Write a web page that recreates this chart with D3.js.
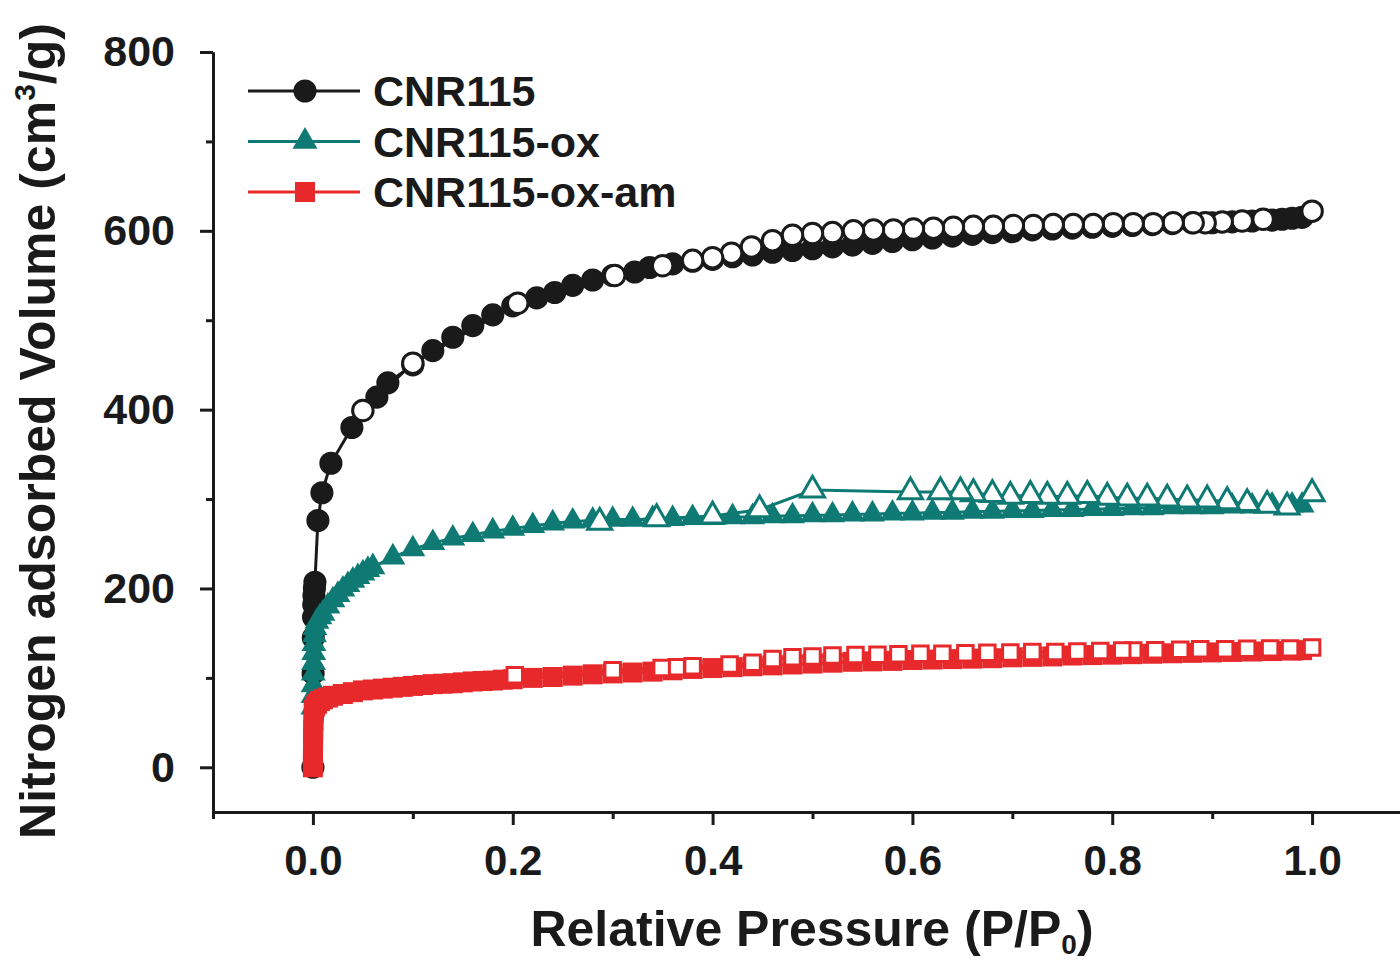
<!DOCTYPE html>
<html>
  <head>
    <meta charset="utf-8" />
    <title>N2 isotherms</title>
    <style>
      html, body {
        margin: 0;
        padding: 0;
        background: white;
      }
      svg text {
        font-family: "Liberation Sans", Arial, sans-serif;
        font-weight: bold;
        fill: #1a1a1a;
      }
      .axis path, .axis line {
        stroke: #1a1a1a;
        stroke-width: 3px;
      }
    </style>
  </head>
  <body>
    <script src="https://d3js.org/d3.v7.min.js"></script>
    <script>
      // [P/P0, volume]
      var blackAds = [[0,0],[0.0002,105],[0.0004,145],[0.0006,168],[0.0008,182],[0.001,192],[0.0015,200],[0.002,207],
        [0.005,276],[0.009,307],[0.018,340],[0.039,380],[0.064,414],[0.075,430],[0.10,450],[0.12,466],[0.14,481],
        [0.16,494],[0.18,506],[0.20,516],[0.224,525],[0.242,531],[0.26,539],[0.28,545],[0.30,550],[0.322,554],
        [0.337,559],[0.36,563],[0.38,566],[0.40,568],[0.42,571],[0.44,573],[0.46,576],[0.48,578],[0.50,580],
        [0.52,582],[0.54,584],[0.56,586],[0.58,588],[0.60,590],[0.62,592],[0.64,594],[0.66,596],[0.68,598],
        [0.70,599],[0.72,601],[0.74,602],[0.76,603],[0.78,604],[0.80,605],[0.82,606],[0.84,607],[0.86,608],
        [0.88,609],[0.90,609],[0.92,610],[0.94,611],[0.96,612],[0.97,613],[0.98,614],[0.99,615]];
      var blackDes = [[1.0,622],[0.951,613],[0.93,611],[0.91,610],[0.893,609],[0.881,609],[0.861,609],[0.841,608],
        [0.821,608],[0.801,608],[0.781,607],[0.761,607],[0.741,607],[0.721,606],[0.701,606],[0.681,605],
        [0.661,605],[0.641,604],[0.621,603],[0.601,602],[0.581,601],[0.561,601],[0.541,600],[0.52,598],
        [0.50,597],[0.48,595],[0.46,589],[0.439,582],[0.419,575],[0.40,570],[0.38,567],[0.35,561],[0.302,550],
        [0.205,519],[0.10,452],[0.05,399]];

      var tealAds = [[0,67],[0.0001,80],[0.0002,92],[0.0004,105],[0.0006,117],[0.0008,128],[0.001,138],[0.0015,148],
        [0.002,156],[0.004,163],[0.007,168],[0.01,172],[0.015,180],[0.02,187],[0.025,193],[0.03,199],[0.035,204],
        [0.04,209],[0.045,213],[0.05,217],[0.055,221],[0.06,224],[0.08,235],[0.10,244],[0.12,251],[0.14,256],
        [0.16,260],[0.18,264],[0.20,267],[0.22,270],[0.24,273],[0.26,275],[0.28,276],[0.30,277],[0.32,277],
        [0.34,278],[0.36,278],[0.38,279],[0.40,279],[0.42,280],[0.44,280],[0.46,281],[0.48,281],[0.50,282],
        [0.52,282],[0.54,283],[0.56,283],[0.58,284],[0.60,284],[0.62,285],[0.64,285],[0.66,286],[0.68,286],
        [0.70,287],[0.72,287],[0.74,288],[0.76,288],[0.78,289],[0.80,289],[0.82,290],[0.84,290],[0.86,291],
        [0.88,291],[0.90,291],[0.92,292],[0.94,292],[0.96,293],[0.98,293],[0.99,293]];
      var tealDes = [[1.0,306],[0.975,291],[0.955,293],[0.935,295],[0.915,297],[0.895,299],[0.875,299],[0.855,300],
        [0.835,301],[0.815,301],[0.795,302],[0.775,304],[0.755,303],[0.735,303],[0.718,304],[0.698,303],
        [0.68,305],[0.661,306],[0.648,308],[0.628,308],[0.598,308],[0.50,310],[0.447,288],[0.40,281],
        [0.344,278],[0.287,274]];

      var redAds = [[0,0],[0,8],[0.0001,20],[0.0002,32],[0.0003,42],[0.0005,52],[0.0008,60],[0.001,64],[0.002,68],
        [0.004,71],[0.007,74],[0.01,76],[0.015,78],[0.02,80],[0.03,82],[0.04,84],[0.05,86],[0.06,87],[0.07,88],
        [0.08,89],[0.09,90],[0.10,91],[0.11,92],[0.12,93],[0.13,93.5],[0.14,94],[0.15,95],[0.16,96],[0.17,96.5],
        [0.18,97],[0.19,98],[0.20,98.5],[0.22,100],[0.24,101],[0.26,102.5],[0.28,104],[0.30,105],[0.32,106],
        [0.34,107],[0.36,108.5],[0.38,110],[0.40,111],[0.42,112],[0.44,113],[0.46,114],[0.48,115],[0.50,116],
        [0.52,117],[0.54,118],[0.56,118.5],[0.58,119],[0.60,120],[0.62,120.5],[0.64,121],[0.66,121.5],[0.68,122],
        [0.70,123],[0.72,123.5],[0.74,124],[0.76,125],[0.78,125.5],[0.80,126],[0.82,126.5],[0.84,127],
        [0.86,127.5],[0.88,128],[0.90,128.5],[0.92,129],[0.94,129.5],[0.96,130],[0.98,130.5],[0.99,131]];
      var redDes = [[1.0,134],[0.978,133],[0.958,133],[0.935,132.5],[0.913,132],[0.888,132],[0.868,131.5],
        [0.843,131],[0.821,130.5],[0.81,130.5],[0.788,130],[0.765,129.5],[0.743,129],[0.72,129],[0.698,128.5],
        [0.675,128],[0.653,127.5],[0.63,127],[0.608,127],[0.586,126.5],[0.565,126],[0.543,125.5],[0.52,125],
        [0.50,124],[0.48,123],[0.46,121],[0.44,117],[0.417,115],[0.38,113],[0.364,112],[0.349,111],
        [0.30,108.5],[0.202,103]];

      var seriesNames = ["CNR115", "CNR115-ox", "CNR115-ox-am"];
      var xTicks = [0, 0.2, 0.4, 0.6, 0.8, 1.0];
      var xMinor = [-0.1, 0.1, 0.3, 0.5, 0.7, 0.9, 1.1];
      var yTicks = [0, 200, 400, 600, 800];
      var yMinor = [100, 300, 500, 700];

      var W = 1400, H = 963;

      var svg = d3.select("body").append("svg")
        .attr("width", W)
        .attr("height", H);

      var x = d3.scaleLinear().domain([-0.1, 1.1]).range([213, 1412]);
      var y = d3.scaleLinear().domain([-50, 800]).range([812, 52]);

      // axes
      svg.append("g")
        .attr("class", "axis")
        .attr("transform", "translate(0," + y(-50) + ")")
        .call(d3.axisBottom(x).tickValues(xMinor).tickSize(7).tickSizeOuter(0).tickFormat(""));
      svg.append("g")
        .attr("class", "axis")
        .attr("transform", "translate(0," + y(-50) + ")")
        .call(d3.axisBottom(x).tickValues(xTicks).tickSize(13).tickSizeOuter(0).tickPadding(20)
          .tickFormat(d3.format(".1f")))
        .selectAll("text")
        .attr("font-size", 42)
        .attr("fill", "#1a1a1a");

      svg.append("g")
        .attr("class", "axis")
        .attr("transform", "translate(" + x(-0.1) + ",0)")
        .call(d3.axisLeft(y).tickValues(yMinor).tickSize(7).tickSizeOuter(0).tickFormat(""));
      svg.append("g")
        .attr("class", "axis")
        .attr("transform", "translate(" + x(-0.1) + ",0)")
        .call(d3.axisLeft(y).tickValues(yTicks).tickSize(13).tickSizeOuter(0).tickPadding(25))
        .selectAll("text")
        .attr("font-size", 43)
        .attr("fill", "#1a1a1a");

      // axis titles
      var xt = svg.append("text")
        .attr("x", 812)
        .attr("y", 946)
        .attr("text-anchor", "middle")
        .attr("font-size", 50);
      xt.append("tspan").text("Relative Pressure (P/P");
      xt.append("tspan").attr("font-size", 28).attr("dy", 8).text("0");
      xt.append("tspan").attr("dy", -8).text(")");

      var yt = svg.append("text")
        .attr("transform", "translate(55,431) rotate(-90)")
        .attr("text-anchor", "middle")
        .attr("font-size", 50);
      yt.append("tspan").text("Nitrogen adsorbed Volume (cm");
      yt.append("tspan").attr("font-size", 30).attr("dy", -20).text("3");
      yt.append("tspan").attr("dy", 20).text("/g)");

      var line = d3.line()
        .x(function(d) { return x(d[0]); })
        .y(function(d) { return y(d[1]); });

      var series = [
        { ads: blackAds, des: blackDes, color: "#1a1a1a", shape: d3.symbolCircle, size: 420, openSize: 330 },
        { ads: tealAds, des: tealDes, color: "#0f7a73", shape: d3.symbolTriangle, size: 270, openSize: 250 },
        { ads: redAds, des: redDes, color: "#e8292b", shape: d3.symbolSquare, size: 400, openSize: 240 }
      ];

      series.forEach(function(s) {
        var g = svg.append("g");
        // adsorption: filled markers
        g.append("path")
          .datum(s.ads)
          .attr("d", line)
          .attr("fill", "none")
          .attr("stroke", s.color)
          .attr("stroke-width", 3);
        g.selectAll(".ads")
          .data(s.ads)
          .enter()
          .append("path")
          .attr("class", "ads")
          .attr("transform", function(d) { return "translate(" + x(d[0]) + "," + y(d[1]) + ")"; })
          .attr("d", d3.symbol().type(s.shape).size(s.size))
          .attr("fill", s.color);
        // desorption: open markers
        g.append("path")
          .datum(s.des)
          .attr("d", line)
          .attr("fill", "none")
          .attr("stroke", s.color)
          .attr("stroke-width", 3);
        g.selectAll(".des")
          .data(s.des)
          .enter()
          .append("path")
          .attr("class", "des")
          .attr("transform", function(d) { return "translate(" + x(d[0]) + "," + y(d[1]) + ")"; })
          .attr("d", d3.symbol().type(s.shape).size(s.openSize))
          .attr("fill", "white")
          .attr("stroke", s.color)
          .attr("stroke-width", 3);
      });

      // legend
      var legend = svg.selectAll(".legend")
        .data(series)
        .enter()
        .append("g")
        .attr("class", "legend")
        .attr("transform", function(d, i) { return "translate(248," + (91 + i * 50.5) + ")"; });
      legend.append("line")
        .attr("x1", 0)
        .attr("x2", 112)
        .attr("stroke", function(d) { return d.color; })
        .attr("stroke-width", 3);
      legend.append("path")
        .attr("transform", "translate(57,0)")
        .attr("d", function(d) { return d3.symbol().type(d.shape).size(d.size)(); })
        .attr("fill", function(d) { return d.color; });
      legend.append("text")
        .attr("x", 125)
        .attr("y", 15)
        .attr("font-size", 43)
        .text(function(d, i) { return seriesNames[i]; });
    </script>
  </body>
</html>
